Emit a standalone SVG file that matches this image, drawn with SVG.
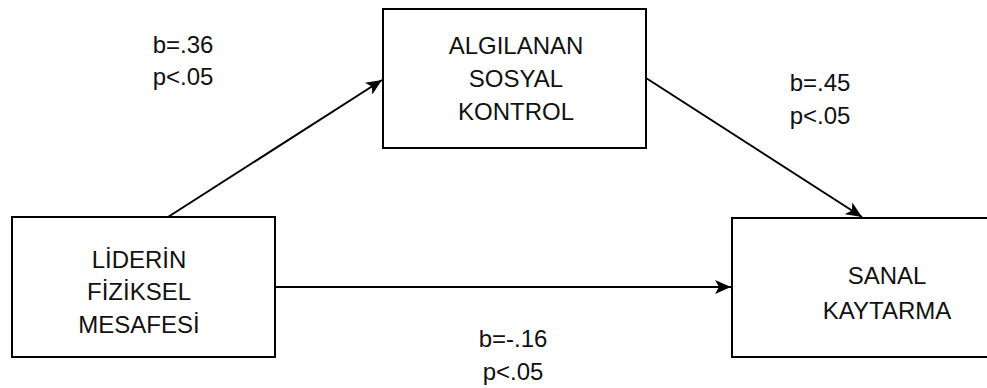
<svg xmlns="http://www.w3.org/2000/svg" width="987" height="388" viewBox="0 0 987 388">
<style>
.box{fill:#fff;stroke:#000;stroke-width:2}
.t{font-family:"Liberation Sans",Arial,sans-serif;font-size:24px;fill:#111;text-anchor:middle}
.c{fill:none;stroke:#000;stroke-width:2}
</style>
<defs>
<marker id="ah" markerUnits="userSpaceOnUse" markerWidth="18" markerHeight="14" refX="16" refY="7" orient="auto">
<path d="M0,0 L16,7 L0,14 L4,7 Z" fill="#000"/>
</marker>
</defs>
<rect width="987" height="388" fill="#fff"/>
<g id="connectors">
<line class="c" x1="168" y1="217" x2="382" y2="80" marker-end="url(#ah)"/>
<line class="c" x1="646" y1="78" x2="862" y2="217" marker-end="url(#ah)"/>
<line class="c" x1="275" y1="287" x2="731" y2="287" marker-end="url(#ah)"/>
</g>
<g id="lider">
<rect class="box" x="12" y="217" width="263" height="140"/>
<text class="t" x="139" y="268">LİDERİN</text>
<text class="t" x="139" y="300">FİZİKSEL</text>
<text class="t" x="139" y="333">MESAFESİ</text>
</g>
<g id="algilanan">
<rect class="box" x="383" y="9" width="263" height="139"/>
<text class="t" x="516" y="54">ALGILANAN</text>
<text class="t" x="516" y="87">SOSYAL</text>
<text class="t" x="516" y="120">KONTROL</text>
</g>
<g id="sanal">
<rect class="box" x="732" y="218" width="270" height="139"/>
<text class="t" x="887" y="284">SANAL</text>
<text class="t" x="887" y="319">KAYTARMA</text>
</g>
<g id="labels">
<text class="t" x="183" y="53">b=.36</text>
<text class="t" x="183" y="85">p&lt;.05</text>
<text class="t" x="820" y="91">b=.45</text>
<text class="t" x="820" y="124">p&lt;.05</text>
<text class="t" x="513" y="347">b=-.16</text>
<text class="t" x="513" y="380">p&lt;.05</text>
</g>
</svg>
